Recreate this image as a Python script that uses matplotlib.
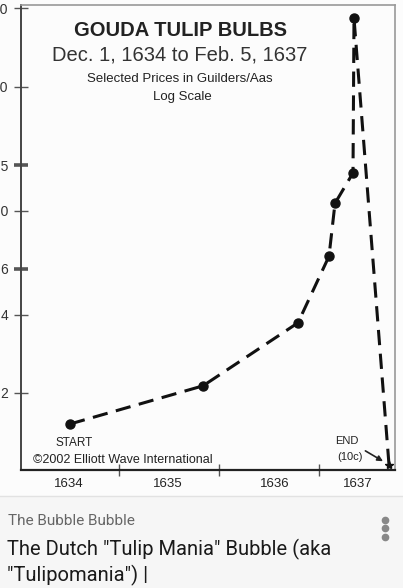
import matplotlib.pyplot as plt
from matplotlib.patches import Rectangle
from matplotlib.lines import Line2D
from matplotlib.transforms import ScaledTranslation
import matplotlib.ticker as mticker

# values (x in "chart years", y in guilders, log scale)
years = [1634.01, 1635.34, 1636.29, 1636.60, 1636.66, 1636.84, 1636.85, 1637.20]
prices = [1.52, 2.13, 3.72, 6.7, 10.7, 14.0, 55.0, 1.06]
year_labels = [1634, 1635, 1636, 1637]
y_ticks = [2, 4, 6, 10, 15, 30, 60]
bold_ticks = [6, 15]

W, H = 403, 588


def fx(px):
    return px / W


def fy(py):
    return 1 - py / H


plt.rcParams["font.family"] = ["Liberation Sans", "DejaVu Sans"]

fig = plt.figure(figsize=(W / 100, H / 100), dpi=100)
fig.patch.set_facecolor("#fcfcfc")

# card area below the chart image
fig.add_artist(Rectangle((0, 0), 1, fy(496), transform=fig.transFigure,
                         facecolor="#f6f6f6", edgecolor="none", zorder=0))
fig.add_artist(Line2D([0, 1], [fy(496), fy(496)], transform=fig.transFigure,
                      color="#e2e2e2", lw=1))

ax = fig.add_axes([fx(21), fy(470), fx(395) - fx(21), fy(5) - fy(470)])
ax.set_facecolor("#fcfcfc")
ax.set_yscale("log")
ax.set_xlim(1633.52, 1637.26)
ax.set_ylim(1.012, 61.8)

# dashed price path
ax.plot(years, prices, color="#111", lw=2.2, dashes=(5, 2.8), zorder=3)
ax.plot(years[:-1], prices[:-1], "o", color="#111", ms=6.5, zorder=4)
ax.plot(years[-1:], prices[-1:], "*", color="#111", ms=6, zorder=4)

# y axis
ax.yaxis.set_minor_locator(mticker.NullLocator())
ax.set_yticks(y_ticks)
ax.set_yticklabels([str(v) for v in y_ticks])
ax.tick_params(axis="y", direction="inout", length=10, width=1, color="#555",
               pad=4.3, labelsize=10, labelcolor="#333")
for tick, v in zip(ax.yaxis.get_major_ticks(), y_ticks):
    if v in bold_ticks:
        tick.tick1line.set_markeredgewidth(2.6)
        tick.tick1line.set_color("#222")

# x axis: ticks between years, labels on years
ax.set_xticks([y + 0.5 for y in year_labels[:-1]])
ax.set_xticklabels([])
ax.set_xticks(year_labels, minor=True)
ax.set_xticklabels([str(y) for y in year_labels], minor=True)
ax.tick_params(axis="x", which="major", direction="inout", length=8, width=1,
               color="#555")
ax.tick_params(axis="x", which="minor", length=0, pad=6, labelsize=9.5,
               labelcolor="#222")
# the hand-set labels in the source are not evenly spaced
for lab, dx in zip(ax.xaxis.get_minorticklabels(), [0, -1, 6, -11]):
    lab.set_transform(lab.get_transform()
                      + ScaledTranslation(dx / 100, 0, fig.dpi_scale_trans))

ax.spines["left"].set_color("#444")
ax.spines["left"].set_linewidth(1.4)
ax.spines["bottom"].set_color("#222")
ax.spines["bottom"].set_linewidth(1.6)
ax.spines["bottom"].set_linestyle((0, (2, 1)))
ax.spines["top"].set_color("#999")
ax.spines["top"].set_linewidth(1.2)
ax.spines["top"].set_linestyle((0, (3, 1)))
ax.spines["right"].set_color("#999")
ax.spines["right"].set_linewidth(1.2)

# titles
fig.text(fx(180), fy(31), "GOUDA TULIP BULBS", ha="center", va="center",
         fontsize=14.5, fontweight="bold", color="#222")
fig.text(fx(180), fy(55), "Dec. 1, 1634 to Feb. 5, 1637", ha="center",
         va="center", fontsize=14.5, color="#333")
fig.text(fx(180), fy(79), "Selected Prices in Guilders/Aas", ha="center",
         va="center", fontsize=9.5, color="#222")
fig.text(fx(182), fy(97), "Log Scale", ha="center", va="center",
         fontsize=9.5, color="#222")

# annotations
ax.annotate("START", (years[0], prices[0]), xytext=(3, -14),
            textcoords="offset points", ha="center", va="center",
            fontsize=8.5, color="#222")
ax.text(0.032, 0.0215, "\u00a92002 Elliott Wave International",
        transform=ax.transAxes, ha="left", va="center", fontsize=9,
        color="#222")
ax.text(0.872, 0.062, "END", transform=ax.transAxes, ha="center",
        va="center", fontsize=8, color="#222")
ax.text(0.880, 0.028, "(10c)", transform=ax.transAxes, ha="center",
        va="center", fontsize=8, color="#222")
ax.annotate("", (years[-1], prices[-1]), xytext=(-17, 10),
            textcoords="offset points",
            arrowprops=dict(arrowstyle="-|>", color="#222", lw=1.2,
                            shrinkA=0, shrinkB=5, mutation_scale=8))

# card text
fig.text(fx(8), fy(521), "The Bubble Bubble", ha="left", va="center",
         fontsize=11, color="#666", family=["Roboto", "DejaVu Sans"])
fig.text(fx(7), fy(549), 'The Dutch "Tulip Mania" Bubble (aka',
         ha="left", va="center", fontsize=14.5, color="#1a1a1a",
         family=["Roboto", "DejaVu Sans"])
fig.text(fx(7), fy(575), '"Tulipomania") |', ha="left", va="center",
         fontsize=14.5, color="#1a1a1a", family=["Roboto", "DejaVu Sans"])
fig.add_artist(Line2D([fx(385)] * 3, [fy(520), fy(528), fy(537)],
                      transform=fig.transFigure, ls="none", marker="o",
                      ms=4.5, color="#888"))

fig.savefig("out.png", dpi=100, facecolor=fig.get_facecolor())
